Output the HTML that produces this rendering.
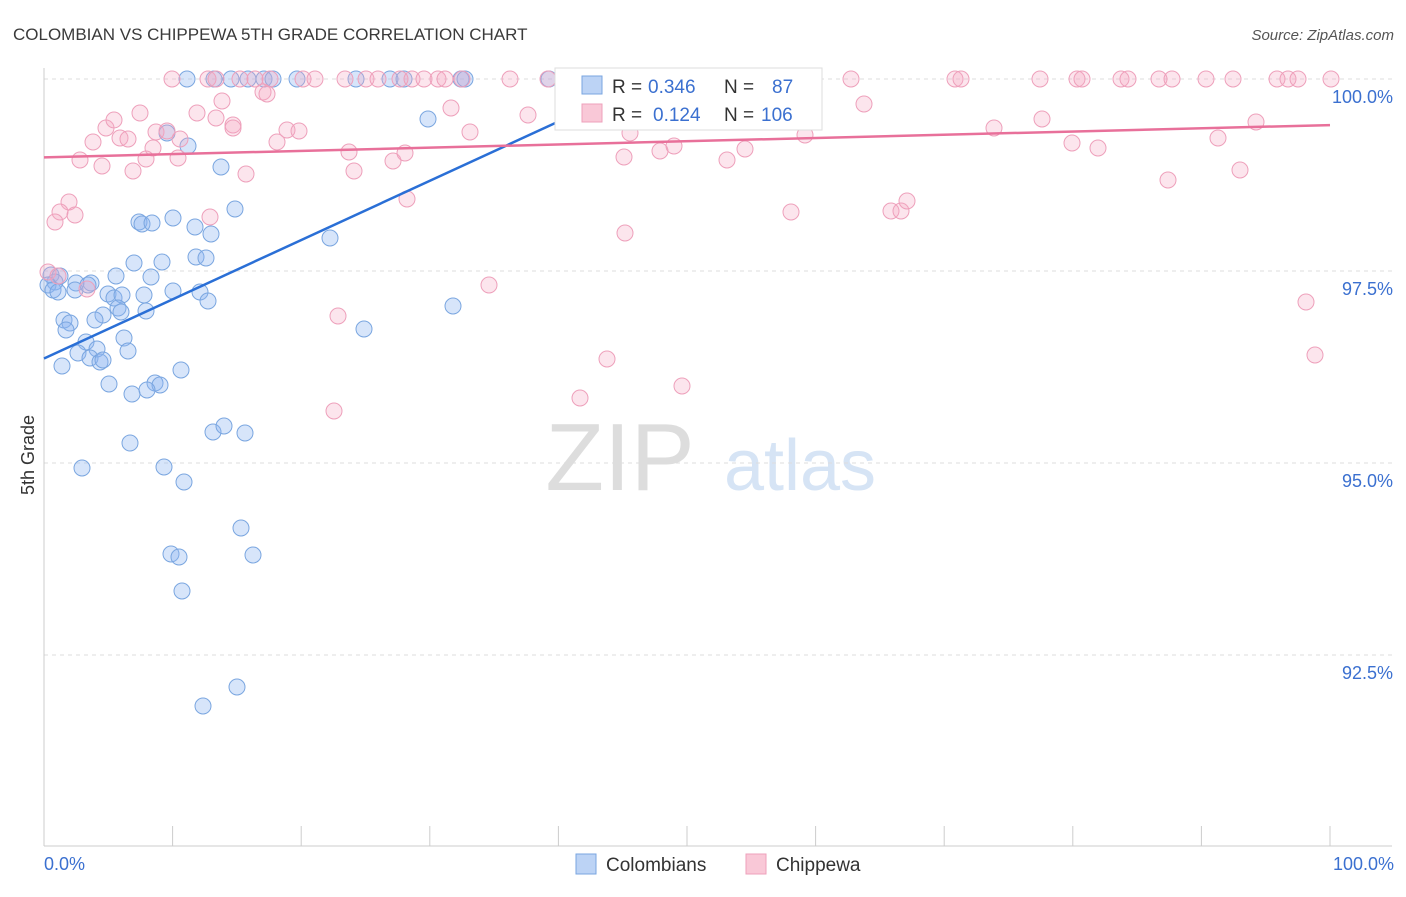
<!DOCTYPE html>
<html><head><meta charset="utf-8"><style>
body{margin:0;background:#fff;font-family:"Liberation Sans",sans-serif;}
svg text{font-family:"Liberation Sans",sans-serif;}
</style></head><body>
<svg id="c" width="1406" height="892" xmlns="http://www.w3.org/2000/svg">
<text x="13" y="40" font-size="17" fill="#3a3a3a">COLOMBIAN VS CHIPPEWA 5TH GRADE CORRELATION CHART</text>
<text x="1394" y="40" font-size="15" fill="#555" font-style="italic" text-anchor="end">Source: ZipAtlas.com</text>
<text x="620" y="490" font-size="96" fill="#ddd" font-family="Liberation Serif" text-anchor="middle">ZIP</text>
<text x="800" y="490" font-size="72" fill="#d6e4f5" text-anchor="middle">atlas</text>
<text x="34" y="455" font-size="18" fill="#333" transform="rotate(-90 34 455)" text-anchor="middle">5th Grade</text>
<g id="grid"></g><g id="pts"></g><g id="lines"></g>
<g>
<rect x="555" y="68" width="267" height="62" fill="#fff" stroke="#ddd"/>
<rect x="582" y="76" width="20" height="18" fill="#bcd3f5" stroke="#7aa6e0"/>
<rect x="582" y="104" width="20" height="18" fill="#f9c8d7" stroke="#eea0bb"/>
<text x="612" y="93" font-size="19" fill="#333">R =</text>
<text x="648" y="93" font-size="19" fill="#3b70d0">0.346</text>
<text x="724" y="93" font-size="19" fill="#333">N =</text>
<text x="772" y="93" font-size="19" fill="#3b70d0">87</text>
<text x="612" y="121" font-size="19" fill="#333">R =</text>
<text x="653" y="121" font-size="19" fill="#3b70d0">0.124</text>
<text x="724" y="121" font-size="19" fill="#333">N =</text>
<text x="761" y="121" font-size="19" fill="#3b70d0">106</text>
</g>
<g>
<rect x="576" y="854" width="20" height="20" fill="#bcd3f5" stroke="#7aa6e0"/>
<text x="606" y="871" font-size="19" fill="#333">Colombians</text>
<rect x="746" y="854" width="20" height="20" fill="#f9c8d7" stroke="#eea0bb"/>
<text x="776" y="871" font-size="19" fill="#333">Chippewa</text>
</g>
</svg>
<script>
const yTicks=[100,97.5,95,92.5];
const yTickLabels=["100.0%","97.5%","95.0%","92.5%"];
const xTickVals=[0,10,20,30,40,50,60,70,80,90,100];
const xLabels=["0.0%","100.0%"];
const bluePx=[[187,79],[214,79],[231,79],[248,79],[264,79],[273,79],[297,79],[356,79],[390,79],[404,79],[461,79],[465,79],[549,79],[428,119],[167,133],[188,146],[221,167],[235,209],[139,222],[142,224],[152,223],[173,218],[195,227],[211,234],[330,238],[51,275],[60,276],[55,282],[48,285],[53,290],[58,292],[76,283],[91,283],[116,276],[134,263],[151,277],[162,262],[196,257],[206,258],[75,290],[88,285],[108,294],[114,298],[122,295],[144,295],[173,291],[200,292],[208,301],[118,308],[121,312],[146,311],[103,315],[64,320],[70,323],[95,320],[66,330],[86,342],[97,349],[124,338],[128,351],[78,353],[90,358],[100,362],[103,360],[62,366],[181,370],[155,383],[160,385],[109,384],[132,394],[147,390],[453,306],[364,329],[213,432],[224,426],[245,433],[130,443],[82,468],[164,467],[184,482],[241,528],[171,554],[179,557],[253,555],[182,591],[237,687],[203,706]];
const pinkPx=[[172,79],[208,79],[216,79],[240,79],[255,79],[270,79],[303,79],[315,79],[345,79],[366,79],[378,79],[400,79],[412,79],[424,79],[438,79],[445,79],[462,79],[510,79],[548,79],[591,79],[644,79],[710,79],[762,79],[851,79],[955,79],[961,79],[1040,79],[1077,79],[1082,79],[1121,79],[1128,79],[1159,79],[1172,79],[1206,79],[1233,79],[1277,79],[1288,79],[1298,79],[1331,79],[263,92],[267,94],[222,101],[140,113],[197,113],[451,108],[528,115],[864,104],[106,128],[114,120],[120,138],[128,139],[156,132],[167,131],[180,139],[216,118],[233,125],[233,128],[287,130],[299,131],[470,132],[630,133],[994,128],[1042,119],[1256,122],[93,142],[153,148],[102,166],[80,160],[133,171],[146,159],[178,158],[246,174],[277,142],[349,152],[354,171],[393,161],[405,153],[407,199],[624,157],[660,151],[674,146],[727,160],[745,149],[805,135],[1072,143],[1098,148],[1218,138],[1168,180],[1240,170],[69,202],[60,212],[75,215],[55,222],[210,217],[625,233],[791,212],[891,211],[901,211],[907,201],[48,272],[58,276],[87,289],[489,285],[338,316],[607,359],[682,386],[580,398],[334,411],[1306,302],[1315,355]];
const X0=44,X1=1330,Y100=79,PX25=192;
const xs=v=>X0+(X1-X0)*v/100, ys=v=>Y100+(100-v)/2.5*PX25;
const toData=p=>[(p[0]-X0)/(X1-X0)*100,100-(p[1]-Y100)/PX25*2.5];
const blueData=bluePx.map(toData), pinkData=pinkPx.map(toData);
const blueLine=[[0,96.36],[42,99.6]], pinkLine=[[0,98.98],[100,99.4]];
const NS="http://www.w3.org/2000/svg";
function mk(t,a,p){const e=document.createElementNS(NS,t);for(const k in a)e.setAttribute(k,a[k]);p.appendChild(e);return e;}
const g=document.getElementById('grid'),svg=document.getElementById('c');
yTicks.forEach((v,i)=>{const l=mk('line',{x1:X0,x2:1392,y1:ys(v),y2:ys(v),stroke:'#ddd','stroke-dasharray':'4,4'},g);


const t=mk('text',{x:1393,y:ys(v)+24,'font-size':18,fill:'#3b70d0','text-anchor':'end'},g);t.textContent=yTickLabels[i];

});
const ax=mk('line',{x1:X0,x2:X0,y1:68,y2:846,stroke:'#ccc'},g);


const bx=mk('line',{x1:X0,x2:1392,y1:846,y2:846,stroke:'#ccc'},g);


xTickVals.forEach(v=>{const l=mk('line',{x1:xs(v),x2:xs(v),y1:826,y2:846,stroke:'#ccc'},g);

});
[[0,'start',44],[100,'end',1394]].forEach((a,i)=>{const t=mk('text',{x:a[2],y:870,'font-size':18,fill:'#3b70d0','text-anchor':a[1]},g);t.textContent=xLabels[i];

});
const pg=document.getElementById('pts');
blueData.forEach(d=>{const c=mk('circle',{cx:xs(d[0]),cy:ys(d[1]),r:8,fill:'rgba(140,180,240,0.35)',stroke:'#7aa6e0','stroke-width':1},pg);

});
pinkData.forEach(d=>{const c=mk('circle',{cx:xs(d[0]),cy:ys(d[1]),r:8,fill:'rgba(245,170,195,0.3)',stroke:'#eea0bb','stroke-width':1},pg);

});
const lg=document.getElementById('lines');
const bl=mk('line',{x1:xs(blueLine[0][0]),y1:ys(blueLine[0][1]),x2:xs(blueLine[1][0]),y2:ys(blueLine[1][1]),stroke:'#2a6fd6','stroke-width':2.5},lg);


const pl=mk('line',{x1:xs(pinkLine[0][0]),y1:ys(pinkLine[0][1]),x2:xs(pinkLine[1][0]),y2:ys(pinkLine[1][1]),stroke:'#e8709a','stroke-width':2.5},lg);


</script>
</body></html>
